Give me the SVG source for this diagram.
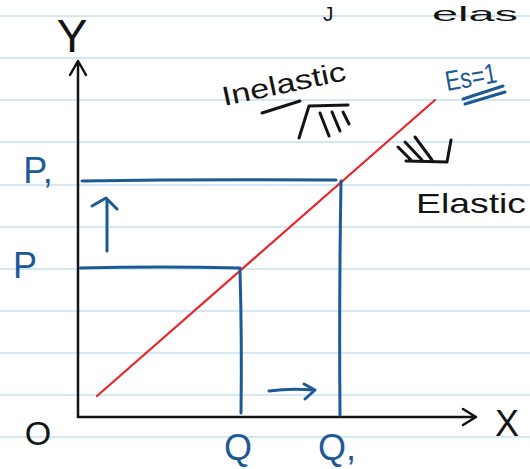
<svg xmlns="http://www.w3.org/2000/svg" width="530" height="469" viewBox="0 0 530 469">
<style>
.rule{stroke:#d3e8f6;stroke-width:2;fill:none}
.ax{stroke:#141414;stroke-width:2.5;fill:none;stroke-linecap:round;stroke-linejoin:round}
.bl{stroke:#1d5a95;stroke-width:3;fill:none;stroke-linecap:round;stroke-linejoin:round}
.ink{stroke:#141414;stroke-width:3;fill:none;stroke-linecap:round;stroke-linejoin:round}
.tk{font-family:"Liberation Sans","DejaVu Sans",sans-serif;fill:#141414}
.tb{font-family:"Liberation Sans","DejaVu Sans",sans-serif;fill:#1d5a95}
</style>
<rect width="530" height="469" fill="#ffffff"/>
<g id="paper">
<line class="rule" x1="0" y1="16" x2="530" y2="16"/>
<line class="rule" x1="0" y1="58" x2="530" y2="58"/>
<line class="rule" x1="0" y1="100" x2="530" y2="100"/>
<line class="rule" x1="0" y1="142" x2="530" y2="142"/>
<line class="rule" x1="0" y1="185" x2="530" y2="185"/>
<line class="rule" x1="0" y1="227" x2="530" y2="227"/>
<line class="rule" x1="0" y1="269" x2="530" y2="269"/>
<line class="rule" x1="0" y1="311" x2="530" y2="311"/>
<line class="rule" x1="0" y1="353" x2="530" y2="353"/>
<line class="rule" x1="0" y1="395" x2="530" y2="395"/>
<line class="rule" x1="0" y1="437" x2="530" y2="437"/>
</g>
<g id="top-text">
<text class="tk" x="323" y="21" font-size="21">J</text>
<text class="tk" x="432" y="21" font-size="21" textLength="86" lengthAdjust="spacingAndGlyphs">elas</text>
</g>
<g id="connectors">
<path class="ax" d="M78 417 V61 M70 75 L78 61 L86 75"/>
<path class="ax" d="M78 417 H476 M463 409 L476 417 L463 425"/>
<line x1="97" y1="396" x2="435" y2="100" stroke="#e8262a" stroke-width="2.2" stroke-linecap="round"/>
<path class="bl" d="M82 181 Q200 179 336 180"/>
<path class="bl" d="M341 181 Q339 300 340 415"/>
<path class="bl" d="M80 268 Q160 266 240 268"/>
<path class="bl" d="M240 270 Q242 340 241 413"/>
<path class="bl" d="M107 251 V200 M92 206 L106 198 L117 209"/>
<path class="bl" d="M269 391 Q290 388 314 390 M304 384 L315 390 L305 399"/>
</g>
<g id="labels">
<text class="tk" x="72" y="52" font-size="46" text-anchor="middle">Y</text>
<text class="tk" x="38" y="445" font-size="34" text-anchor="middle">O</text>
<text class="tk" x="507" y="436" font-size="36" text-anchor="middle">X</text>
<text class="tb" x="38" y="183" font-size="36" text-anchor="middle">P,</text>
<text class="tb" x="25" y="278" font-size="36" text-anchor="middle">P</text>
<text class="tb" x="238" y="460" font-size="36" text-anchor="middle">Q</text>
<text class="tb" x="337" y="460" font-size="36" text-anchor="middle">Q,</text>
</g>
<g id="inelastic">
<text class="tk" x="224" y="106" font-size="27" transform="rotate(-12 224 106)" textLength="126" lengthAdjust="spacingAndGlyphs">Inelastic</text>
<path class="ink" d="M262 113 L300 101"/>
<path class="ink" d="M299 138 L309 106 L348 105 M320 113 L329 136 M332 112 L340 131 M343 112 L349 124"/>
</g>
<g id="elastic">
<path class="ink" d="M398 147 L411 160 M405 142 L422 160 M415 137 L432 160 M406 161 L447 162 L451 140"/>
<text class="tk" x="416" y="213" font-size="28" textLength="110" lengthAdjust="spacingAndGlyphs">Elastic</text>
</g>
<g id="es1">
<text class="tb" x="447" y="91" font-size="28" transform="rotate(-10 447 91)" textLength="52" lengthAdjust="spacingAndGlyphs">Es=1</text>
<path class="bl" d="M463 99 L503 86 M465 104 L505 92"/>
</g>
</svg>
